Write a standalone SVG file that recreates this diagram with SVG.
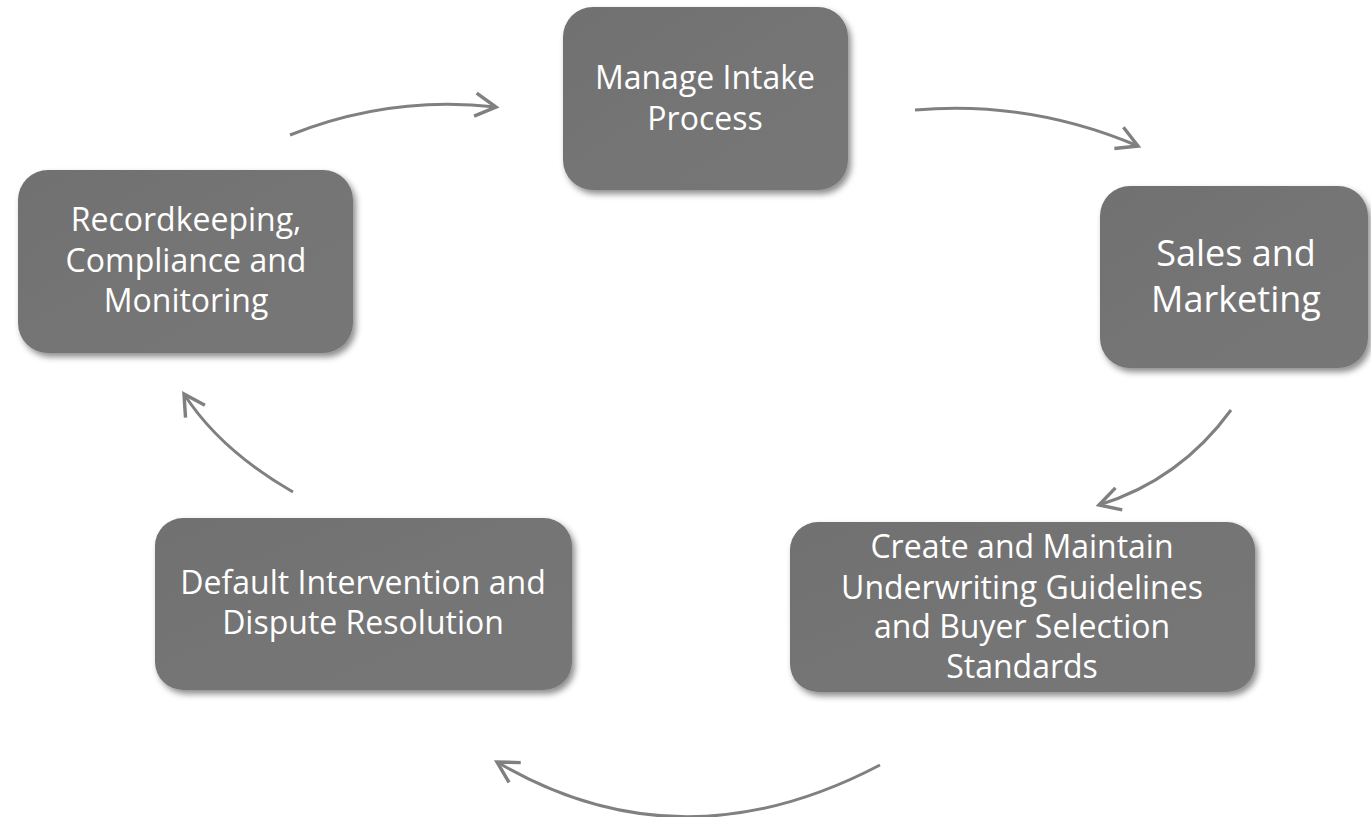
<svg xmlns="http://www.w3.org/2000/svg" width="1371" height="817" viewBox="0 0 1371 817">
<style>
.node rect{fill:url(#g);filter:url(#sh)}
.node text{fill:#ffffff;font-family:"Open Sans","Liberation Sans",sans-serif;font-size:32px;text-anchor:middle}
.node text.big{font-size:36px}
.conn path{fill:none;stroke:#808080;stroke-width:3;marker-end:url(#ah)}
</style>
<defs>
<linearGradient id="g" x1="0" y1="0" x2="1" y2="1">
<stop offset="0" stop-color="#717171"/>
<stop offset="1" stop-color="#777777"/>
</linearGradient>
<filter id="sh" x="-10%" y="-10%" width="125%" height="130%">
<feDropShadow dx="3" dy="4" stdDeviation="3" flood-color="#000" flood-opacity="0.45"/>
</filter>
<marker id="ah" markerUnits="userSpaceOnUse" markerWidth="30" markerHeight="30" viewBox="-22 -12 26 24" refX="0" refY="0" orient="auto">
<polyline points="-18,-10 0,0 -18,10" fill="none" stroke="#808080" stroke-width="3"/>
</marker>
</defs>
<g id="connectors" class="conn">
<path d="M290,135 Q390,95 496,107"/>
<path d="M915,110 Q1030,100 1138,146"/>
<path d="M1231,410 Q1180,480 1099,505"/>
<path d="M880,765 Q680,870 497,762"/>
<path d="M293,492 Q220,450 184,394"/>
</g>
<g id="n1" class="node">
<rect x="563" y="7" width="285" height="183" rx="30"/>
<text x="705" y="89">Manage Intake</text>
<text x="705" y="130">Process</text>
</g>
<g id="n2" class="node">
<rect x="1100" y="186" width="268" height="182" rx="30"/>
<text class="big" x="1236" y="266">Sales and</text>
<text class="big" x="1236" y="312">Marketing</text>
</g>
<g id="n3" class="node">
<rect x="790" y="522" width="465" height="170" rx="28"/>
<text x="1022" y="558">Create and Maintain</text>
<text x="1022" y="599">Underwriting Guidelines</text>
<text x="1022" y="638">and Buyer Selection</text>
<text x="1022" y="678">Standards</text>
</g>
<g id="n4" class="node">
<rect x="155" y="518" width="417" height="172" rx="28"/>
<text x="363" y="594">Default Intervention and</text>
<text x="363" y="634">Dispute Resolution</text>
</g>
<g id="n5" class="node">
<rect x="18" y="170" width="335" height="183" rx="30"/>
<text x="186" y="231">Recordkeeping,</text>
<text x="186" y="272">Compliance and</text>
<text x="186" y="312">Monitoring</text>
</g>
</svg>
